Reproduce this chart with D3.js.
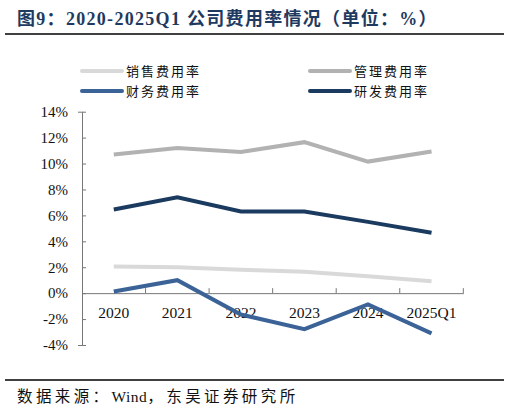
<!DOCTYPE html>
<html>
<head>
<meta charset="utf-8">
<script src="https://cdn.jsdelivr.net/npm/d3@7"></script>
<style>
  body { margin: 0; background: #fff; }
  text { font-family: "Liberation Serif", "Noto Sans CJK SC", serif; }
</style>
</head>
<body>
<div id="chart"></div>
<script>
// categories and series (percent)
const years = ['2020', '2021', '2022', '2023', '2024', '2025Q1'];
const sellRate = [2.06, 2.0, 1.8, 1.65, 1.3, 0.92];
const adminRate = [10.7, 11.2, 10.9, 11.65, 10.15, 10.93];
const finRate = [0.13, 1.0, -1.65, -2.78, -0.87, -3.1];
const rdRate = [6.46, 7.4, 6.3, 6.3, 5.5, 4.66];
const yTicks = [-4, -2, 0, 2, 4, 6, 8, 10, 12, 14];

const seriesNames = ['销售费用率', '管理费用率', '财务费用率', '研发费用率'];
const seriesColors = ['#d9d9d9', '#b2b2b2', '#3b6397', '#1b3a5f'];

const W = 510, H = 412;
const margin = { top: 111.7, left: 82, right: 46.7, bottom: 67 };

const svg = d3.select('#chart').append('svg')
    .attr('width', W)
    .attr('height', H);

// title + rules
svg.append('text')
    .attr('x', 17).attr('y', 25)
    .attr('fill', '#1f3a60')
    .attr('font-size', 18)
    .attr('font-weight', 'bold')
    .attr('letter-spacing', 1.3)
    .text('图9：2020-2025Q1 公司费用率情况（单位：%）');
svg.append('line')
    .attr('x1', 5).attr('x2', 504).attr('y1', 34).attr('y2', 34)
    .attr('stroke', '#000').attr('stroke-width', 1.5);
svg.append('line')
    .attr('x1', 5).attr('x2', 504).attr('y1', 380).attr('y2', 380)
    .attr('stroke', '#000').attr('stroke-width', 1.5);
const src = svg.append('text')
    .attr('x', 17).attr('y', 402)
    .attr('fill', '#111')
    .attr('font-size', 15.5);
src.append('tspan').attr('letter-spacing', 3.4).text('数据来源：');
src.append('tspan').attr('letter-spacing', 0.5).text('Wind');
src.append('tspan').attr('letter-spacing', 3.4).text('，东吴证券研究所');

const xScale = d3.scaleBand()
    .domain(years)
    .range([margin.left, W - margin.right]);
const yScale = d3.scaleLinear()
    .domain([-4, 14])
    .range([345, margin.top]);

// y axis
const yAxis = d3.axisLeft(yScale)
    .tickValues(yTicks)
    .tickSize(4)
    .tickFormat(d => d + '%');
const yg = svg.append('g')
    .attr('transform', `translate(${margin.left},0)`)
    .call(yAxis);
yg.selectAll('text')
    .attr('font-size', 15)
    .attr('fill', '#111')
    .attr('x', -14)
    .style('font-family', '"Liberation Serif", serif');
yg.selectAll('line, path').attr('stroke', '#777');
yg.selectAll('.tick line').attr('x2', 4).attr('x1', 0);

// x axis at zero
const xAxis = d3.axisTop(xScale).tickSize(0).tickFormat('');
const xg = svg.append('g')
    .attr('transform', `translate(0,${yScale(0)})`)
    .call(xAxis);
xg.select('path').attr('stroke', '#777');
// band boundary ticks
const bounds = years.map(y => xScale(y)).concat([xScale.range()[1]]);
xg.selectAll('.bound')
    .data(bounds.slice(1))
    .enter().append('line')
    .attr('x1', d => d).attr('x2', d => d)
    .attr('y1', 0).attr('y2', -5)
    .attr('stroke', '#777');
svg.append('g').selectAll('text')
    .data(years)
    .enter().append('text')
    .attr('x', d => xScale(d) + xScale.bandwidth() / 2)
    .attr('y', yScale(0) + 24.5)
    .attr('text-anchor', 'middle')
    .attr('font-size', 15.5)
    .attr('fill', '#111')
    .text(d => d);

// lines
const allSeries = [sellRate, adminRate, finRate, rdRate];
const line = d3.line()
    .x((d, i) => xScale(years[i]) + xScale.bandwidth() / 2)
    .y(d => yScale(d));
svg.append('g').selectAll('path')
    .data(allSeries)
    .enter().append('path')
    .attr('d', line)
    .attr('fill', 'none')
    .attr('stroke', (d, i) => seriesColors[i])
    .attr('stroke-width', 4)
    .attr('stroke-linejoin', 'miter');

// legend
const legendPos = [[82, 71], [310, 71], [82, 91], [310, 91]];
const legend = svg.append('g').selectAll('g')
    .data(seriesNames)
    .enter().append('g')
    .attr('transform', (d, i) => `translate(${legendPos[i][0]},${legendPos[i][1]})`);
legend.append('line')
    .attr('x1', 0).attr('x2', 40)
    .attr('stroke', (d, i) => seriesColors[i])
    .attr('stroke-width', 4)
    .attr('stroke-linecap', 'round');
legend.append('text')
    .attr('x', 44).attr('y', 5)
    .attr('font-size', 13)
    .attr('fill', '#111')
    .attr('letter-spacing', 2)
    .text(d => d);
</script>
</body>
</html>
